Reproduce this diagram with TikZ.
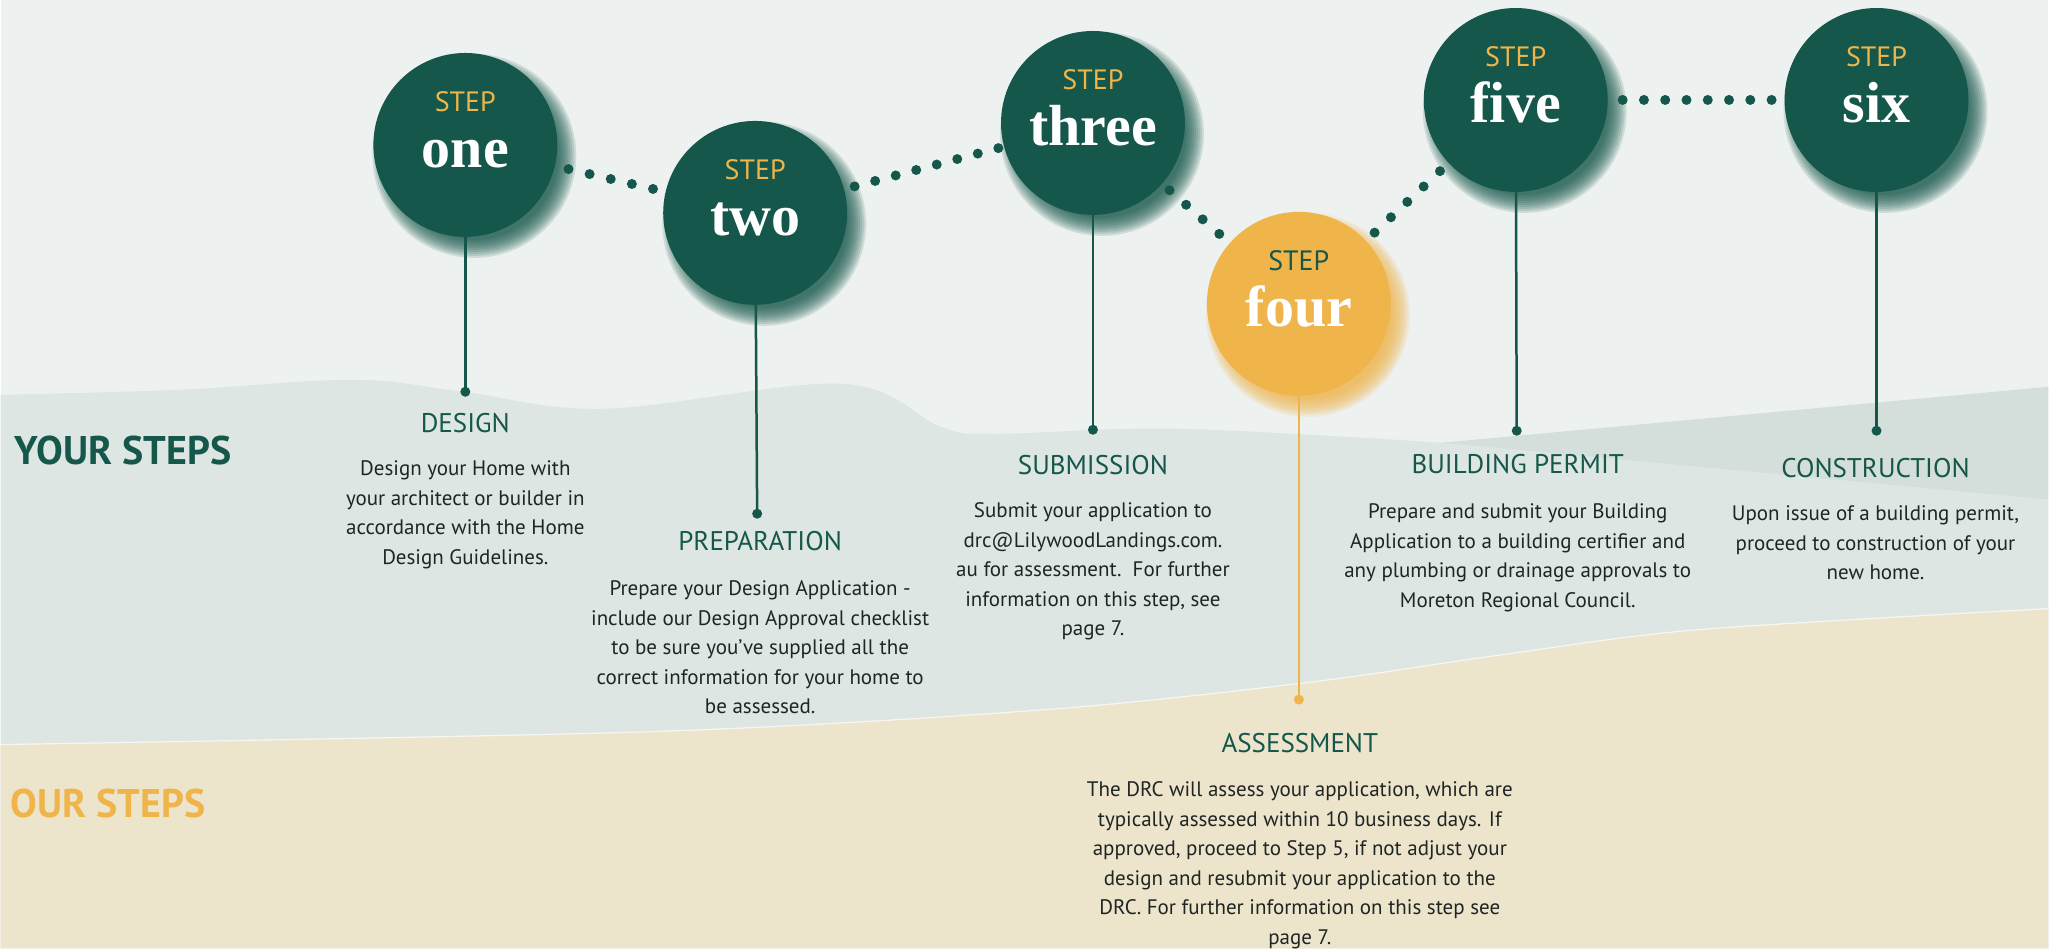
\documentclass[tikz,border=0pt]{standalone}
\usepackage{fontspec}
\setmainfont{PT Sans}
\newfontfamily\wordfont{Liberation Serif}
\usetikzlibrary{calc,positioning}

\definecolor{stepgreen}{HTML}{15574A}
\definecolor{steporange}{HTML}{F0B54A}
\definecolor{skybg}{HTML}{EDF1EF}
\definecolor{bandbg}{HTML}{DEE6E3}
\definecolor{wedgebg}{HTML}{D4DEDA}
\definecolor{sandbg}{HTML}{EDE4CC}
\definecolor{bodytext}{HTML}{1F2523}

\begin{document}
\begin{tikzpicture}[
    x=1pt, y=-1pt,
    stepcircle/.style={circle, minimum size=184pt, inner sep=0pt},
    stepcap/.style={font=\fontsize{28}{30}\selectfont, inner sep=0pt},
    stepword/.style={font=\wordfont\bfseries\fontsize{58}{60}\selectfont, text=white, inner sep=0pt, anchor=base},
    stemdot/.style={circle, minimum size=10pt, inner sep=0pt},
    stemline/.style={line width=2.5pt},
    steptitle/.style={font=\fontsize{27}{29}\selectfont, text=stepgreen, inner sep=0pt},
    stepbody/.style={font=\fontsize{21}{29.5}\selectfont, text=bodytext, align=center, inner sep=0pt, anchor=north},
    sidelabel/.style={font=\bfseries\fontsize{40}{42}\selectfont, inner sep=0pt, anchor=west}
]

\fill[skybg] (0,0) rectangle (2049,949);
\fill[bandbg] plot[smooth, tension=0.6] coordinates {(0,395) (180,390) (352,380) (463,392) (604,409) (842,384) (941,427) (995,434) (1178,429) (1442,443)} -- (2049,500) -- (2049,949) -- (0,949) -- cycle;
\fill[wedgebg] (1442,443) -- (2049,387) -- (2049,500) -- cycle;
\fill[sandbg] plot[smooth] coordinates {(0,745) (653,732) (1046,710) (1307,683) (1503,655) (1699,630) (2049,609)} -- (2049,949) -- (0,949) -- cycle;
\draw[white, line width=1.2pt, opacity=0.7] plot[smooth] coordinates {(0,745) (653,732) (1046,710) (1307,683) (1503,655) (1699,630) (2049,609)};

\node[sidelabel, text=stepgreen] (yours) at (14,451) {YOUR STEPS};
\node[sidelabel, text=steporange] (ours) at (10,804) {OUR STEPS};

\foreach \n/\x/\y/\c/\t in {one/465/145/stepgreen/steporange, two/755/213/stepgreen/steporange, three/1093/123/stepgreen/steporange, four/1299/304/steporange/stepgreen, five/1516/100/stepgreen/steporange, six/1877/100/stepgreen/steporange}{
  \foreach \k in {0,...,9}
    \fill[\c, opacity=0.14] (\x+9,\y+11) circle (84+2*\k);
  \node[stepcircle, fill=\c] (\n) at (\x,\y) {};
  \node[stepcap, text=\t] (\n-cap) at (\x,\y-43) {STEP};
  \node[stepword] (\n-word) at (\x,\y+23) {\n};
}

\foreach \a/\b/\m/\s/\e in {one/two/4/106/105, two/three/7/103/98, three/four/3/102/106, four/five/4/104/104, five/six/7/107/105}{
  \path ($(\a.center)!\s pt!(\b.center)$) coordinate (\a-out)
        ($(\b.center)!\e pt!(\a.center)$) coordinate (\b-in);
  \foreach \k in {0,...,\m}
    \fill[stepgreen] ($(\a-out)!\k/\m!(\b-in)$) circle (5);
}

\foreach \n/\x/\y/\c in {one/465/392/stepgreen, two/757/514/stepgreen, three/1093/430/stepgreen, four/1299/700/steporange, five/1517/431/stepgreen, six/1877/431/stepgreen}{
  \node[stemdot, fill=\c] (\n-dot) at (\x,\y) {};
  \draw[stemline, draw=\c] (\n) -- (\n-dot.center);
}

\node[steptitle] (design) at (465,423) {DESIGN};
\node[stepbody] (design-text) at (465,461) {Design your Home with\\your architect or builder in\\accordance with the Home\\Design Guidelines.};

\node[steptitle] (preparation) at (760,541) {PREPARATION};
\node[stepbody] (preparation-text) at (760,581) {Prepare your Design Application -\\include our Design Approval checklist\\to be sure you’ve supplied all the\\correct information for your home to\\be assessed.};

\node[steptitle] (submission) at (1093,465) {SUBMISSION};
\node[stepbody] (submission-text) at (1093,503) {Submit your application to\\drc@LilywoodLandings.com.\\au for assessment.\ \ For further\\information on this step, see\\page 7.};

\node[steptitle] (assessment) at (1300,743) {ASSESSMENT};
\node[stepbody] (assessment-text) at (1300,782) {The DRC will assess your application, which are\\typically assessed within 10 business days. If\\approved, proceed to Step 5, if not adjust your\\design and resubmit your application to the\\DRC. For further information on this step see\\page 7.};

\node[steptitle] (permit) at (1518,464) {BUILDING PERMIT};
\node[stepbody] (permit-text) at (1518,504) {Prepare and submit your Building\\Application to a building certifier and\\any plumbing or drainage approvals to\\Moreton Regional Council.};

\node[steptitle] (construction) at (1876,468) {CONSTRUCTION};
\node[stepbody] (construction-text) at (1876,506) {Upon issue of a building permit,\\proceed to construction of your\\new home.};

\end{tikzpicture}
\end{document}
